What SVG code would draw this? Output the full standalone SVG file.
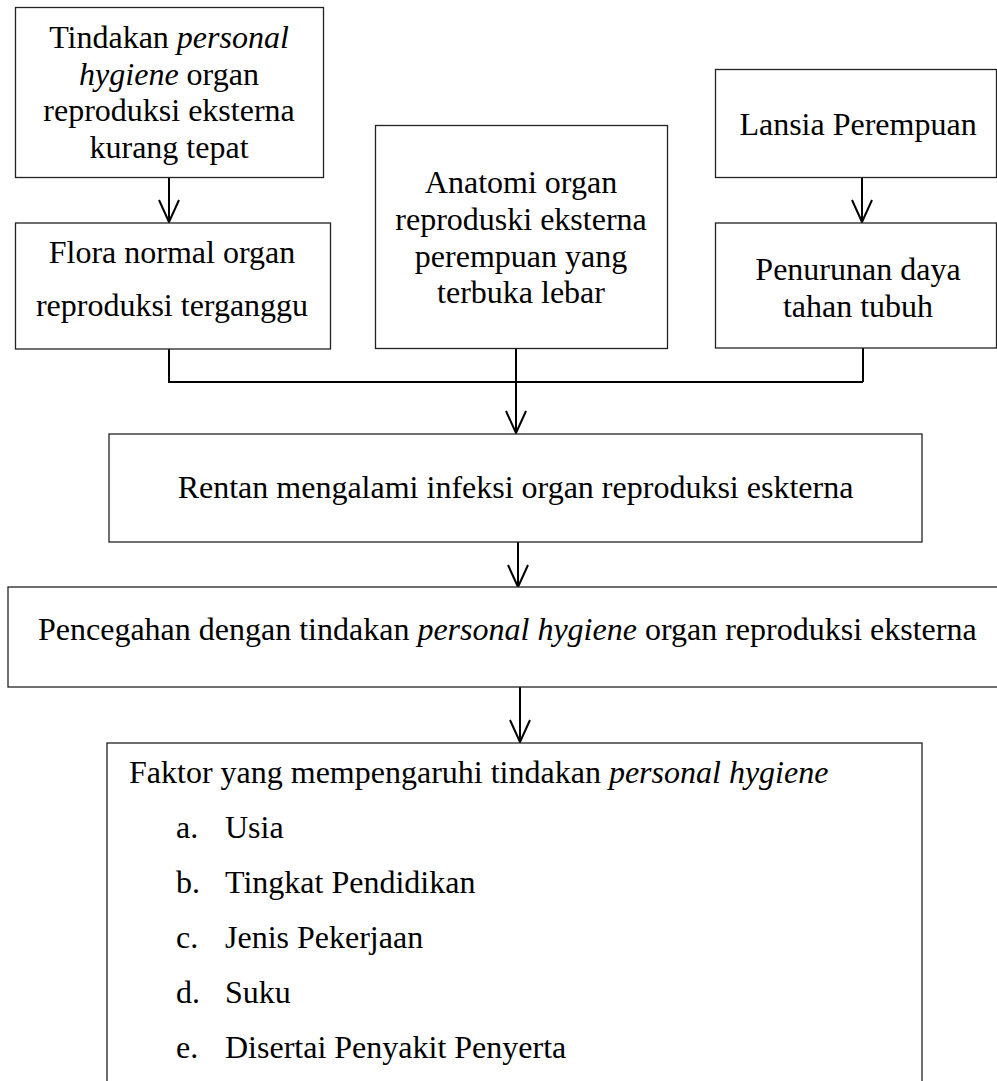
<svg xmlns="http://www.w3.org/2000/svg" width="997" height="1081" viewBox="0 0 997 1081">
<style>
.box{fill:#fff;stroke:#222;stroke-width:1.3}
.ln{fill:none;stroke:#000;stroke-width:2}
text{font-family:"Liberation Serif","Times New Roman",serif;font-size:32px;fill:#000}
.c{text-anchor:middle}
.i{font-style:italic}
</style>
<defs>
<marker id="ah" markerUnits="userSpaceOnUse" markerWidth="30" markerHeight="30" refX="0" refY="0" orient="auto" viewBox="-25 -15 30 30" overflow="visible">
<path d="M-22,-10 L0,0 L-22,10" fill="none" stroke="#000" stroke-width="2"/>
</marker>
</defs>
<rect width="997" height="1081" fill="#fff"/>
<g id="connectors">
<path class="ln" d="M169,177 V222" marker-end="url(#ah)"/>
<path class="ln" d="M862,177 V222" marker-end="url(#ah)"/>
<path class="ln" d="M169,349 V382 H863 M863,348 V382 M516,348 V382"/>
<path class="ln" d="M516,382 V433" marker-end="url(#ah)"/>
<path class="ln" d="M518,542 V587" marker-end="url(#ah)"/>
<path class="ln" d="M520,687 V742" marker-end="url(#ah)"/>
</g>
<g id="n1">
<rect class="box" x="15.5" y="7.5" width="308" height="170"/>
<text class="c" x="169" y="48">Tindakan <tspan class="i">personal</tspan></text>
<text class="c" x="169" y="84.5"><tspan class="i">hygiene</tspan> organ</text>
<text class="c" x="169" y="121">reproduksi eksterna</text>
<text class="c" x="169" y="158">kurang tepat</text>
</g>
<g id="n2">
<rect class="box" x="15.5" y="223" width="315" height="126"/>
<text class="c" x="172" y="263">Flora normal organ</text>
<text class="c" x="172" y="316">reproduksi terganggu</text>
</g>
<g id="n3">
<rect class="box" x="375.5" y="125.5" width="292" height="223"/>
<text class="c" x="521" y="193">Anatomi organ</text>
<text class="c" x="521" y="230">reproduski eksterna</text>
<text class="c" x="521" y="267">perempuan yang</text>
<text class="c" x="521" y="303">terbuka lebar</text>
</g>
<g id="n4">
<rect class="box" x="715.5" y="69.5" width="281" height="108"/>
<text class="c" x="858" y="135">Lansia Perempuan</text>
</g>
<g id="n5">
<rect class="box" x="715.5" y="223" width="281" height="125"/>
<text class="c" x="858" y="280">Penurunan daya</text>
<text class="c" x="858" y="317">tahan tubuh</text>
</g>
<g id="n6">
<rect class="box" x="109" y="434" width="813" height="108"/>
<text class="c" x="515.5" y="498">Rentan mengalami infeksi organ reproduksi eskterna</text>
</g>
<g id="n7">
<rect class="box" x="8" y="587" width="1010" height="100"/>
<text x="38" y="640">Pencegahan dengan tindakan <tspan class="i">personal hygiene</tspan> organ reproduksi eksterna</text>
</g>
<g id="n8">
<rect class="box" x="107" y="743" width="815" height="360"/>
<text x="129" y="783">Faktor yang mempengaruhi tindakan <tspan class="i">personal hygiene</tspan></text>
<text x="176" y="838">a.</text><text x="225" y="838">Usia</text>
<text x="176" y="893">b.</text><text x="225" y="893">Tingkat Pendidikan</text>
<text x="176" y="948">c.</text><text x="225" y="948">Jenis Pekerjaan</text>
<text x="176" y="1003">d.</text><text x="225" y="1003">Suku</text>
<text x="176" y="1058">e.</text><text x="225" y="1058">Disertai Penyakit Penyerta</text>
</g>
</svg>
